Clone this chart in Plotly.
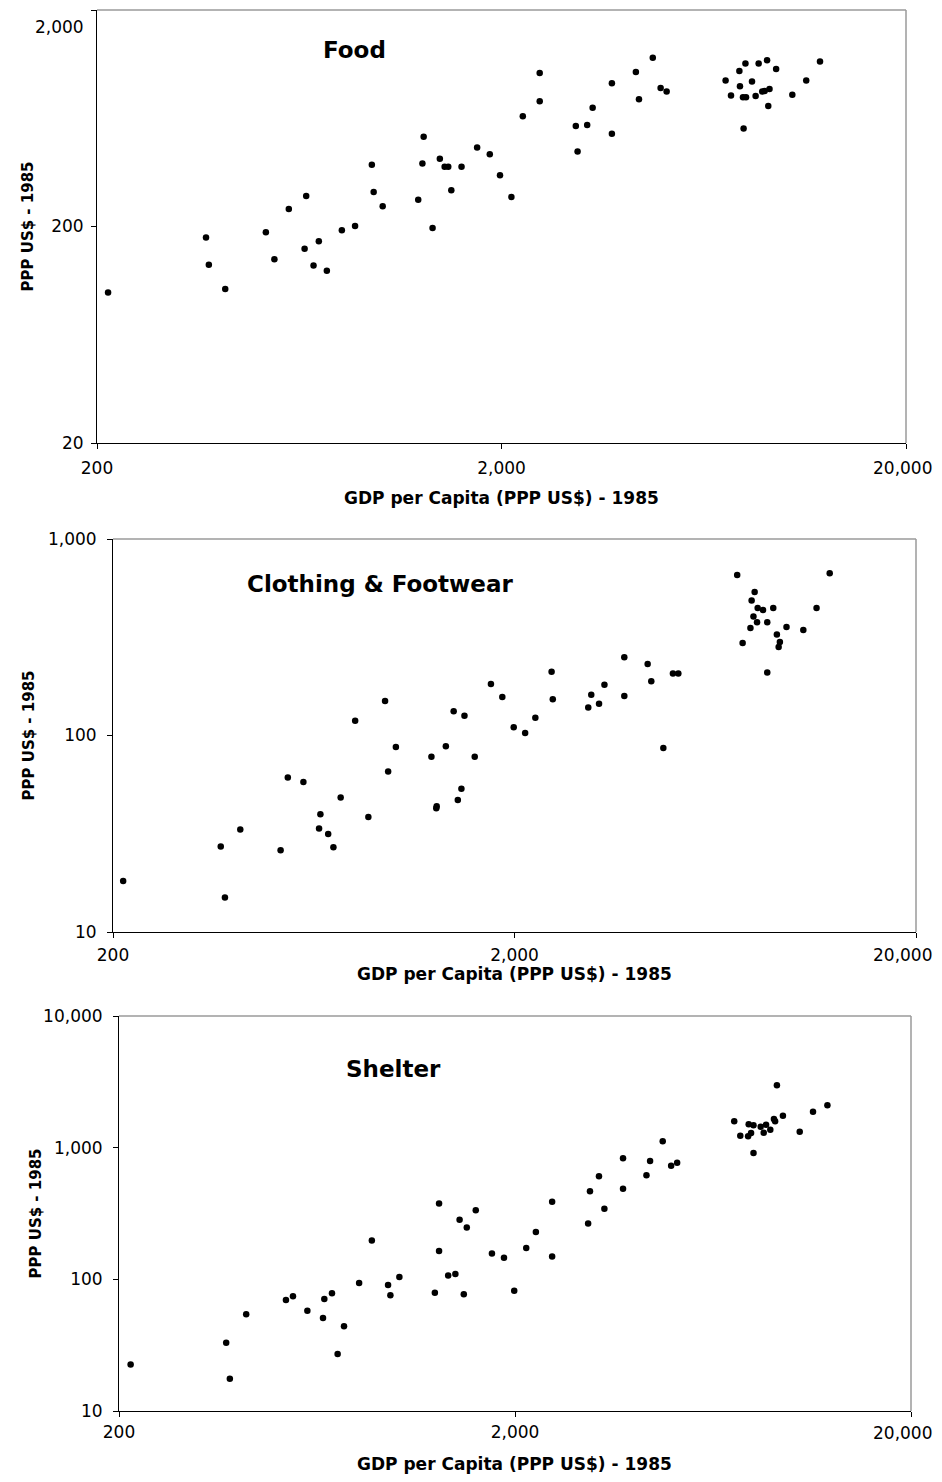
import plotly.graph_objects as go
import math

# ---------------- data ----------------
gdp_ticks = [200, 2000, 20000]
gdp_tick_text = ["200", "2,000", ""]
gdp_edge_label = "20,000"

food_gdp = [213, 372, 378, 415, 523, 549, 596, 652, 658, 686, 707, 740, 806, 869, 956, 966, 1017,
            1245, 1275, 1284, 1351, 1408, 1447, 1477, 1503, 1593, 1741, 1871, 1983, 2116, 2258,
            2486, 2486, 3053, 3084, 3257, 3360, 3749, 3749, 4298, 4374, 4732, 4948, 5120, 7162,
            7386, 7746, 7772, 7907, 7935, 8018, 8045, 8324, 8497, 8645, 8823, 8945, 9069, 9132,
            9195, 9548, 10471, 11333, 12259]
food = [99.2, 178, 133, 103, 188, 141, 241, 158, 277, 132, 171, 125, 192, 201, 386, 289, 248,
        266, 391, 519, 197, 411, 378, 378, 294, 378, 463, 431, 345, 274, 646, 1024, 758, 583,
        444, 589, 708, 917, 537, 1035, 774, 1205, 873, 840, 944, 805, 1046, 889, 791, 567, 1131,
        791, 934, 802, 1131, 840, 846, 1171, 721, 864, 1069, 813, 944, 1155]
food_ticks = [20, 200, 2000]
food_tick_text = ["20", "200", ""]

cloth_gdp = [212, 371, 380, 415, 523, 545, 596, 652, 657, 687, 708, 738, 802, 865, 952, 969, 1013,
             1242, 1277, 1280, 1349, 1411, 1445, 1475, 1501, 1592, 1747, 1865, 1991, 2126, 2254,
             2474, 2491, 3053, 3106, 3248, 3350, 3754, 3754, 4292, 4382, 4696, 4962, 5118, 7172,
             7400, 7738, 7792, 7874, 7928, 8038, 8066, 8318, 8522, 8522, 8820, 9006, 9098, 9162,
             9516, 10480, 11306, 12192]
cloth = [18.2, 27.2, 15.0, 33.2, 26.1, 61.2, 58.0, 33.6, 39.7, 31.5, 27.0, 48.4, 119, 38.5, 150,
         65.5, 87.4, 78.0, 42.6, 43.6, 88.1, 133, 47.0, 53.6, 126, 78.0, 183, 157, 110, 103, 123,
         211, 153, 139, 161, 145, 181, 250, 159, 231, 189, 86.4, 207, 207, 656, 296, 352, 486,
         403, 537, 377, 445, 435, 377, 209, 445, 327, 282, 299, 357, 344, 445, 669]
cloth_ticks = [10, 100, 1000]
cloth_tick_text = ["10", "100", "1,000"]

shel_gdp = [214, 373, 381, 419, 528, 550, 598, 655, 660, 690, 713, 740, 808, 870, 956, 969, 1021,
            1255, 1286, 1286, 1356, 1414, 1449, 1485, 1511, 1592, 1749, 1876, 1991, 2135, 2258,
            2482, 2482, 3060, 3093, 3259, 3363, 3748, 3748, 4295, 4387, 4721, 4958, 5134, 7155,
            7412, 7757, 7783, 7892, 8004, 8004, 8346, 8493, 8611, 8826, 9013, 9076, 9171, 9498,
            10471, 11313, 12301]
shel = [22.6, 33.0, 17.6, 54.2, 69.7, 74.3, 57.8, 50.9, 70.9, 78.3, 27.1, 44.0, 93.8, 197, 90.6,
        75.6, 104, 79.2, 376, 164, 107, 110, 284, 76.9, 248, 334, 157, 146, 82.0, 173, 229, 389,
        149, 265, 466, 606, 344, 830, 488, 617, 792, 1117, 730, 769, 1585, 1234, 1220, 1504,
        1293, 1478, 911, 1444, 1300, 1495, 1370, 1651, 1585, 2975, 1750, 1323, 1877, 2097]
shel_ticks = [10, 100, 1000, 10000]
shel_tick_text = ["10", "100", "1,000", "10,000"]

x_title = "GDP per Capita (PPP US$) - 1985"
y_title = "PPP US$ - 1985"
titles = ["Food", "Clothing & Footwear", "Shelter"]

# ---------------- layout helpers ----------------
# the page body has an 8px margin, so the figure is drawn 8px in from the window edge
OFF = 8
W, H = 942 - 2 * OFF, 1482 - 2 * OFF
FONT = "DejaVu Sans"

def px_x(p):
    return (p - OFF) / W

def px_y(p):
    return 1 - (p - OFF) / H

panels = [
    # (xs, ys, yticks, ytext, yrange, box(l,t,r,b), title center, xtitle y, ytitle x,
    #  x standoff, y standoff, edge label y)
    (food_gdp, food, food_ticks, food_tick_text, [20, 2000], (97, 10, 906, 443), (354, 50), 498, 28, 5, 4, 468),
    (cloth_gdp, cloth, cloth_ticks, cloth_tick_text, [10, 1000], (113, 539, 916, 932), (380, 584), 974, 28, 3, 7, 955),
    (shel_gdp, shel, shel_ticks, shel_tick_text, [10, 10000], (119, 1016, 911, 1411), (393, 1069), 1464, 35, 1, 7, 1433),
]

fig = go.Figure()
annotations = []
shapes = []

for i, (xs, ys, yt, ytt, yr, box, tpos, xty, ytx, xso, yso, ely) in enumerate(panels, start=1):
    xa = "x" if i == 1 else f"x{i}"
    ya = "y" if i == 1 else f"y{i}"
    fig.add_trace(go.Scatter(
        x=xs, y=ys, mode="markers", xaxis=xa, yaxis=ya,
        marker=dict(color="black", size=6.5, line=dict(width=0)),
        showlegend=False, hoverinfo="x+y"))
    l, t, r, b = box
    xkey = "xaxis" if i == 1 else f"xaxis{i}"
    ykey = "yaxis" if i == 1 else f"yaxis{i}"
    fig.update_layout({
        xkey: dict(
            type="log", domain=[px_x(l), px_x(r)],
            range=[math.log10(200), math.log10(20000)],
            anchor=ya, showgrid=False, zeroline=False, automargin=False,
            showline=True, linecolor="black", linewidth=1,
            ticks="outside", ticklen=5, tickcolor="black", tickwidth=1,
            tickvals=gdp_ticks, ticktext=gdp_tick_text,
            tickfont=dict(family=FONT, size=17, color="black"),
            ticklabelstandoff=xso, ticklabeloverflow="allow",
        ),
        ykey: dict(
            type="log", domain=[px_y(b), px_y(t)],
            range=[math.log10(yr[0]), math.log10(yr[1])],
            anchor=xa, showgrid=False, zeroline=False, automargin=False,
            showline=True, linecolor="black", linewidth=1,
            ticks="outside", ticklen=5, tickcolor="black", tickwidth=1,
            tickvals=yt, ticktext=ytt,
            tickfont=dict(family=FONT, size=17, color="black"),
            ticklabelstandoff=yso, ticklabeloverflow="allow",
        ),
    })
    # gray top and right frame
    shapes.append(dict(type="line", xref=f"{xa} domain", yref=f"{ya} domain",
                       x0=0, x1=1, y0=1, y1=1, line=dict(color="#9a9a9a", width=1.5)))
    shapes.append(dict(type="line", xref=f"{xa} domain", yref=f"{ya} domain",
                       x0=1, x1=1, y0=0, y1=1, line=dict(color="#9a9a9a", width=1.5)))
    # panel title
    annotations.append(dict(text=f"<b>{titles[i-1]}</b>", x=px_x(tpos[0]), y=px_y(tpos[1]),
                            xref="paper", yref="paper", showarrow=False,
                            xanchor="center", yanchor="middle",
                            font=dict(family=FONT, size=23, color="black")))
    # x axis title
    annotations.append(dict(text=f"<b>{x_title}</b>", x=px_x((l + r) / 2), y=px_y(xty),
                            xref="paper", yref="paper", showarrow=False,
                            xanchor="center", yanchor="middle",
                            font=dict(family=FONT, size=17, color="black")))
    # y axis title
    annotations.append(dict(text=f"<b>{y_title}</b>", x=px_x(ytx), y=px_y((t + b) / 2),
                            xref="paper", yref="paper", showarrow=False, textangle=-90,
                            xanchor="center", yanchor="middle",
                            font=dict(family=FONT, size=15, color="black")))
    # right-most x tick label, kept inside the page edge
    annotations.append(dict(text=gdp_edge_label, x=px_x(934), y=px_y(ely),
                            xref="paper", yref="paper", showarrow=False,
                            xanchor="right", yanchor="middle",
                            font=dict(family=FONT, size=17, color="black")))

# top tick label of the Food panel sits a little below its tick
annotations.append(dict(text="2,000", x=px_x(86), y=px_y(27), xref="paper", yref="paper",
                        showarrow=False, xanchor="right", yanchor="middle",
                        font=dict(family=FONT, size=17, color="black")))

fig.update_layout(
    width=W, height=H, margin=dict(l=0, r=0, t=0, b=0),
    paper_bgcolor="white", plot_bgcolor="white",
    annotations=annotations, shapes=shapes, showlegend=False,
)

fig.write_html("out.html")
